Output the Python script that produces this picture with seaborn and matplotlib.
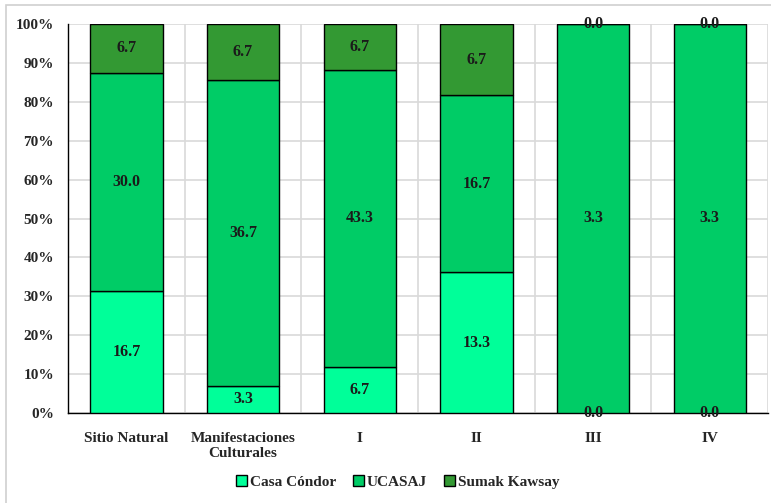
import numpy as np
import pandas as pd
import matplotlib
matplotlib.use("Agg")
import matplotlib.pyplot as plt
import matplotlib.patches as mpatches
import seaborn as sns

# Datos
categorias = ['Sitio Natural', 'Manifestaciones\nCulturales', 'I', 'II', 'III', 'IV']
casa_condor = [16.7, 3.3, 6.7, 13.3, 0.0, 0.0]
ucasaj = [30.0, 36.7, 43.3, 16.7, 3.3, 3.3]
sumak_kawsay = [6.7, 6.7, 6.7, 6.7, 0.0, 0.0]

series = ['Casa Cóndor', 'UCASAJ', 'Sumak Kawsay']
colores = ['#00FF99', '#00CC66', '#339933']

sns.set_theme(style='white')
plt.rcParams['font.family'] = ['Liberation Serif', 'DejaVu Serif']
plt.rcParams['font.weight'] = 'bold'

df = pd.DataFrame({'categoria': categorias, 'Casa Cóndor': casa_condor,
                   'UCASAJ': ucasaj, 'Sumak Kawsay': sumak_kawsay})
total = df[series].sum(axis=1)
pct = df[series].div(total, axis=0) * 100

fig = plt.figure(figsize=(7.71, 5.03), dpi=100)
ax = fig.add_axes([68 / 771, 1 - 413 / 503, 700 / 771, 389 / 503])

# borde exterior del gráfico
fig.patches.append(mpatches.Rectangle((6 / 771, -0.1), 1.1, 1 - 5 / 503 + 0.1,
                                      transform=fig.transFigure, fill=False,
                                      edgecolor='#d0d0d0', lw=1.2, zorder=0))

bottom = np.zeros(len(categorias))
for s, c in zip(series, colores):
    sns.barplot(x=df['categoria'], y=pct[s].values, bottom=bottom, color=c,
                saturation=1, edgecolor='black', linewidth=1.0, width=0.62,
                ax=ax, zorder=3)
    for i, (b, h, v) in enumerate(zip(bottom, pct[s].values, df[s].values)):
        ax.text(i, b + h / 2, f'{v:.1f}', ha='center', va='center',
                fontsize=11.5, fontweight='bold', color='#1a1a1a', zorder=4)
    bottom = bottom + pct[s].values

ax.set_xlim(-0.5, len(categorias) - 0.5)
ax.set_ylim(0, 100)
ax.set_yticks(np.arange(0, 101, 10))
ax.set_yticklabels([f'{t}%' for t in range(0, 101, 10)])
ax.set_xticks(np.arange(len(categorias) + 1) - 0.5, minor=True)
ax.grid(axis='y', which='major', color='#d9d9d9', lw=1.2, zorder=0)
ax.grid(axis='x', which='minor', color='#d9d9d9', lw=1.2, zorder=0)
ax.tick_params(axis='both', which='both', length=0, labelsize=11, pad=10)
ax.tick_params(axis='x', which='major', pad=14)
for lab in ax.get_xticklabels() + ax.get_yticklabels():
    lab.set_fontweight('bold')
ax.set_xlabel('')
ax.set_ylabel('')
for sp in ['top', 'right']:
    ax.spines[sp].set_visible(False)
ax.spines['left'].set_color('black')
ax.spines['bottom'].set_color('black')
ax.spines['left'].set_linewidth(1.0)
ax.spines['bottom'].set_linewidth(1.0)

handles = [mpatches.Patch(facecolor=c, edgecolor='black', lw=1.0, label=s)
           for s, c in zip(series, colores)]
fig.legend(handles=handles, loc='center', bbox_to_anchor=(0.516, 1 - 482 / 503),
           ncol=3, frameon=False, handlelength=0.7, handleheight=0.7,
           handletextpad=0.2, columnspacing=1.1, prop={'weight': 'bold', 'size': 11})

fig.savefig('out.png', dpi=100)
